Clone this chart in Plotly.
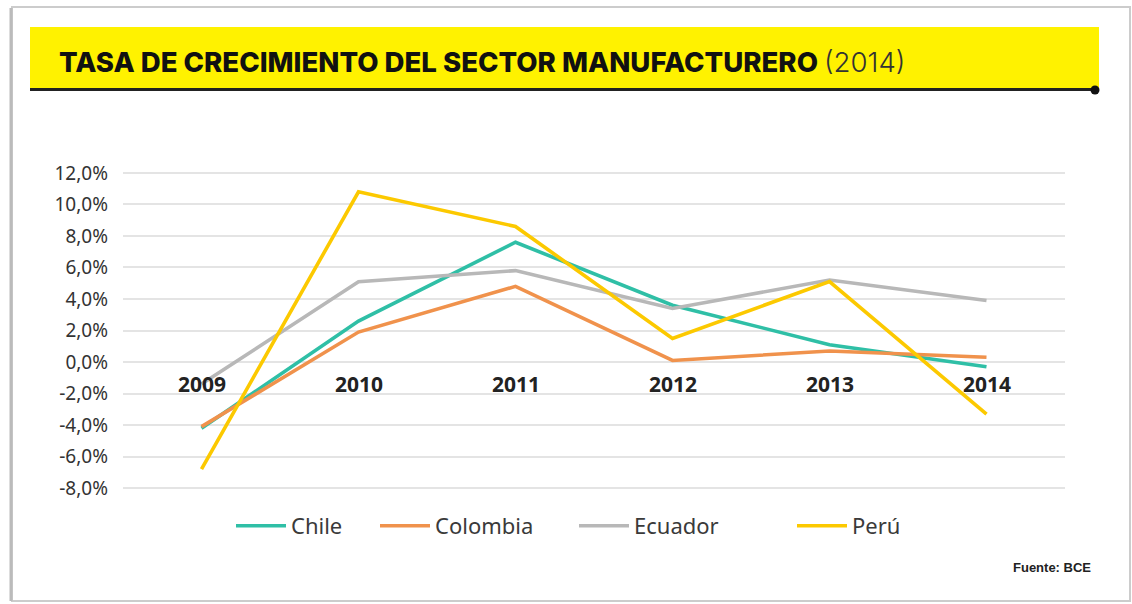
import plotly.graph_objects as go

# Manufacturing-sector growth rate (%), 2009-2014
YEARS = [2009, 2010, 2011, 2012, 2013, 2014]
YEAR_LABELS = ["2009", "2010", "2011", "2012", "2013", "2014"]
CHILE = [-4.2, 2.6, 7.6, 3.6, 1.1, -0.3]
COLOMBIA = [-4.1, 1.9, 4.8, 0.1, 0.7, 0.3]
ECUADOR = [-1.4, 5.1, 5.8, 3.4, 5.2, 3.9]
PERU = [-6.8, 10.8, 8.6, 1.5, 5.1, -3.3]
SERIES_NAMES = ["Chile", "Colombia", "Ecuador", "Perú"]
TICK_VALUES = [12, 10, 8, 6, 4, 2, 0, -2, -4, -6, -8]
TICK_LABELS = ["12,0%", "10,0%", "8,0%", "6,0%", "4,0%", "2,0%", "0,0%",
               "-2,0%", "-4,0%", "-6,0%", "-8,0%"]

COLORS = ["#2fbfa6", "#f0924c", "#b8b8b8", "#fcc900"]

W, H = 1132, 604
L, R, T, B = 123, 67, 165, 108
PW, PH = W - L - R, H - T - B


def px_x(px):
    return (px - L) / PW


def px_y(py):
    return (T + PH - py) / PH


fig = go.Figure()
values = [CHILE, COLOMBIA, ECUADOR, PERU]
legend_ids = ["legend", "legend2", "legend3", "legend4"]
for name, vals, color, lg in zip(SERIES_NAMES, values, COLORS, legend_ids):
    fig.add_trace(go.Scatter(
        x=YEARS, y=vals, name=name, mode="lines",
        line=dict(color=color, width=3.6),
        legend=lg, hoverinfo="skip",
    ))

# year labels sit just under the zero line
for yr, lab in zip(YEARS, YEAR_LABELS):
    fig.add_annotation(
        x=yr, y=-1.4, xref="x", yref="y", text="<b>" + lab + "</b>",
        showarrow=False, font=dict(family="Noto Sans", size=21, color="#222222"),
        xanchor="center", yanchor="middle",
    )

shapes = [
    # outer frame
    dict(type="rect", xref="paper", yref="paper",
         x0=px_x(12), x1=px_x(1130), y0=px_y(601), y1=px_y(7),
         line=dict(color="#cccccc", width=2), fillcolor="rgba(0,0,0,0)", layer="below"),
    dict(type="line", xref="paper", yref="paper",
         x0=px_x(11), x1=px_x(11), y0=px_y(601), y1=px_y(8),
         line=dict(color="#bbbbbb", width=3), layer="below"),
    # yellow title band
    dict(type="rect", xref="paper", yref="paper",
         x0=px_x(30), x1=px_x(1099), y0=px_y(88), y1=px_y(27),
         line=dict(width=0), fillcolor="#fff200", layer="below"),
    # rule under the band
    dict(type="line", xref="paper", yref="paper",
         x0=px_x(30), x1=px_x(1095), y0=px_y(89.5), y1=px_y(89.5),
         line=dict(color="#222222", width=3)),
    dict(type="circle", xref="paper", yref="paper",
         x0=px_x(1090.5), x1=px_x(1099.5), y0=px_y(94.5), y1=px_y(85.5),
         line=dict(width=0), fillcolor="#111111"),
]

annotations = [
    dict(xref="paper", yref="paper", x=px_x(57), y=px_y(62),
         xanchor="left", yanchor="middle", showarrow=False,
         text="TASA DE CRECIMIENTO DEL SECTOR MANUFACTURERO "
              "<span style='color:#333333;font-weight:300'>(2014)</span>",
         font=dict(family="Inter", size=27.6, weight=800, color="#111111")),
    dict(xref="paper", yref="paper", x=px_x(1093), y=px_y(567),
         xanchor="right", yanchor="middle", showarrow=False,
         text="<b>Fuente: BCE</b>",
         font=dict(family="Liberation Sans Narrow, Liberation Sans", size=13, color="#222222")),
]

legend_style = dict(orientation="h", yanchor="middle", xanchor="left",
                    bgcolor="rgba(0,0,0,0)", borderwidth=0, itemwidth=50,
                    font=dict(family="Noto Sans", size=22, color="#3a3a3a"))
legend_x = [231, 375, 574, 792]

fig.update_layout(
    width=W, height=H,
    margin=dict(l=L, r=R, t=T, b=B),
    paper_bgcolor="white", plot_bgcolor="white",
    showlegend=True,
    xaxis=dict(range=[2008.5, 2014.5], showgrid=False, zeroline=False,
               showticklabels=False, showline=False, fixedrange=True),
    yaxis=dict(range=[-8.5, 12.5], tickvals=TICK_VALUES, ticktext=TICK_LABELS,
               showgrid=True, gridcolor="#e4e4e4", gridwidth=2,
               zeroline=False, showline=False, ticks="",
               ticklabelstandoff=14,
               tickfont=dict(family="Noto Sans", size=19, color="#333333")),
    shapes=shapes,
    annotations=fig.layout.annotations + tuple(annotations),
)
for lg, lx in zip(legend_ids, legend_x):
    fig.update_layout({lg: dict(legend_style, x=px_x(lx), y=px_y(526))})

fig.write_html("out.html")
